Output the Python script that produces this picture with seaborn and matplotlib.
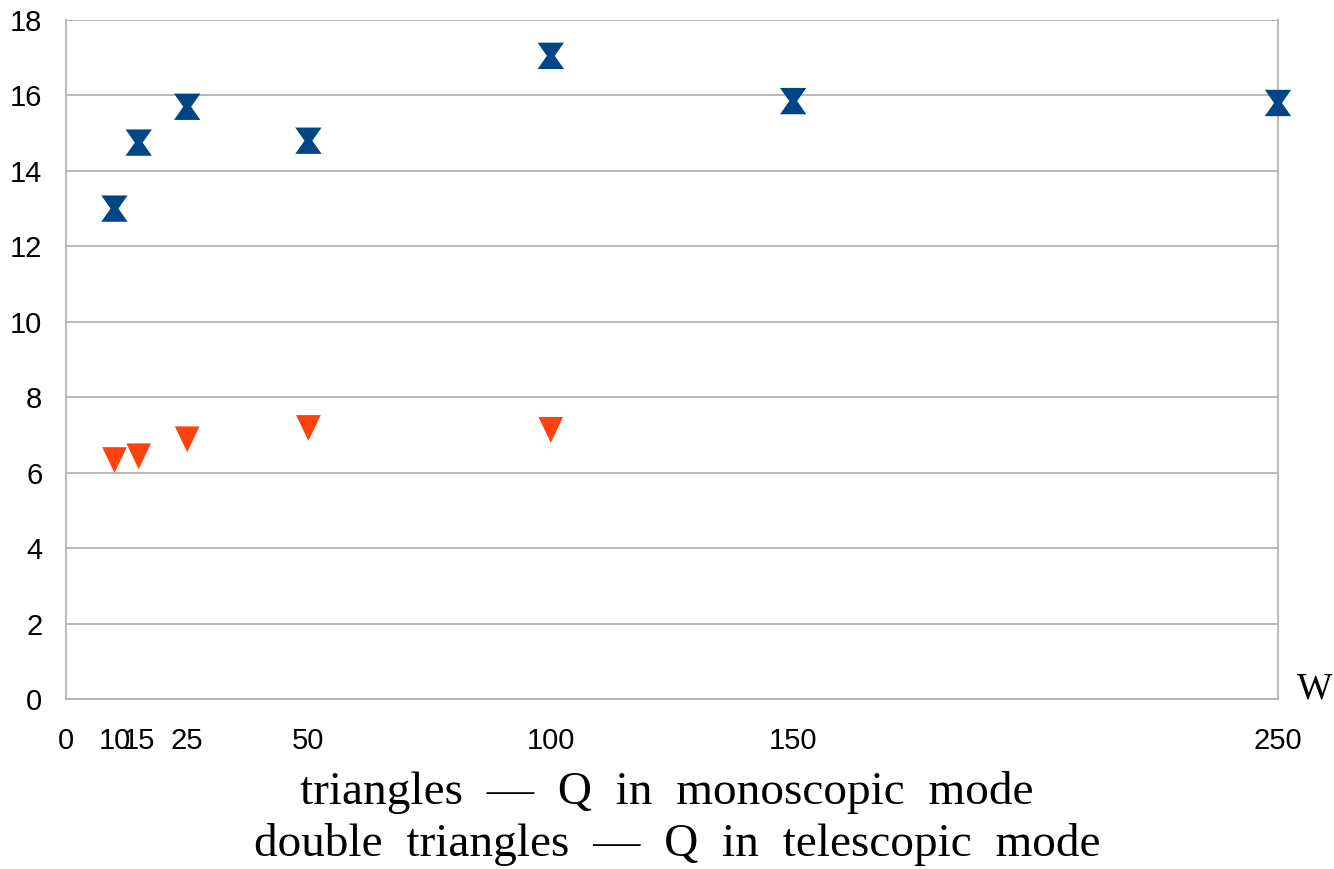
import numpy as np
import pandas as pd
import matplotlib
matplotlib.use("Agg")
import matplotlib.pyplot as plt
from matplotlib.path import Path
import seaborn as sns

# Data
w_tele = [10, 15, 25, 50, 100, 150, 250]
q_tele = [13.0, 14.75, 15.7, 14.8, 17.05, 15.85, 15.8]
w_mono = [10, 15, 25, 50, 100]
q_mono = [6.35, 6.45, 6.9, 7.2, 7.15]
x_ticks = [0, 10, 15, 25, 50, 100, 150, 250]
y_ticks = [0, 2, 4, 6, 8, 10, 12, 14, 16, 18]
caption1 = "triangles  —  Q  in  monoscopic  mode"
caption2 = "double  triangles  —  Q  in  telescopic  mode"

sns.set_theme(style="white")
plt.rcParams['font.family'] = ['Liberation Sans', 'DejaVu Sans']
plt.rcParams['text.color'] = 'black'

fig = plt.figure(figsize=(13.34, 8.69), dpi=100)
ax = fig.add_axes([66/1334, 1-699/869, (1278-66)/1334, (699-20)/869])

blue = "#004586"
orange = "#ff420e"

hourglass = Path([(-1, 1), (1, 1), (0.3, 0), (1, -1), (-1, -1), (-0.3, 0), (-1, 1)],
                 [Path.MOVETO] + [Path.LINETO]*5 + [Path.CLOSEPOLY])
tri_down = Path([(-1, 1), (1, 1), (0, -1.1), (-1, 1)],
                [Path.MOVETO, Path.LINETO, Path.LINETO, Path.CLOSEPOLY])

df_t = pd.DataFrame({"w": w_tele, "q": q_tele})
df_m = pd.DataFrame({"w": w_mono, "q": q_mono})
sns.scatterplot(data=df_t, x="w", y="q", marker=hourglass, s=360, color=blue,
                edgecolor="none", linewidth=0, ax=ax, zorder=3, clip_on=False)
sns.scatterplot(data=df_m, x="w", y="q", marker=tri_down, s=380, color=orange,
                edgecolor="none", linewidth=0, ax=ax, zorder=3, clip_on=False)

ax.set_xlim(0, 250)
ax.set_ylim(0, 18)
ax.set_xticks(x_ticks)
ax.set_xticklabels([str(v) for v in x_ticks])
ax.set_yticks(y_ticks)
ax.set_xlabel("")
ax.set_ylabel("")
ax.grid(axis="y", color="#b3b3b3", linewidth=1.3)
ax.grid(axis="x", visible=False)
for s in ["left", "right", "bottom"]:
    ax.spines[s].set_visible(True)
    ax.spines[s].set_color("#b3b3b3")
    ax.spines[s].set_linewidth(1.3)
ax.spines["top"].set_visible(False)
ax.tick_params(axis="both", which="both", direction="out", length=12, width=1.3,
               color="#b3b3b3", labelsize=21, labelcolor="black")
ax.tick_params(axis="x", pad=8)
ax.tick_params(axis="y", pad=5)
ax.set_axisbelow(True)

fig.text(1315/1334, 1-689/869, "W", family="Liberation Serif", fontsize=27,
         ha="center", va="center", color="black")
fig.text(667/1334, 1-792/869, caption1, family="Liberation Serif", fontsize=34,
         ha="center", va="center", color="black")
fig.text(677/1334, 1-845/869, caption2, family="Liberation Serif", fontsize=34,
         ha="center", va="center", color="black")

fig.savefig("out.png", dpi=100)
